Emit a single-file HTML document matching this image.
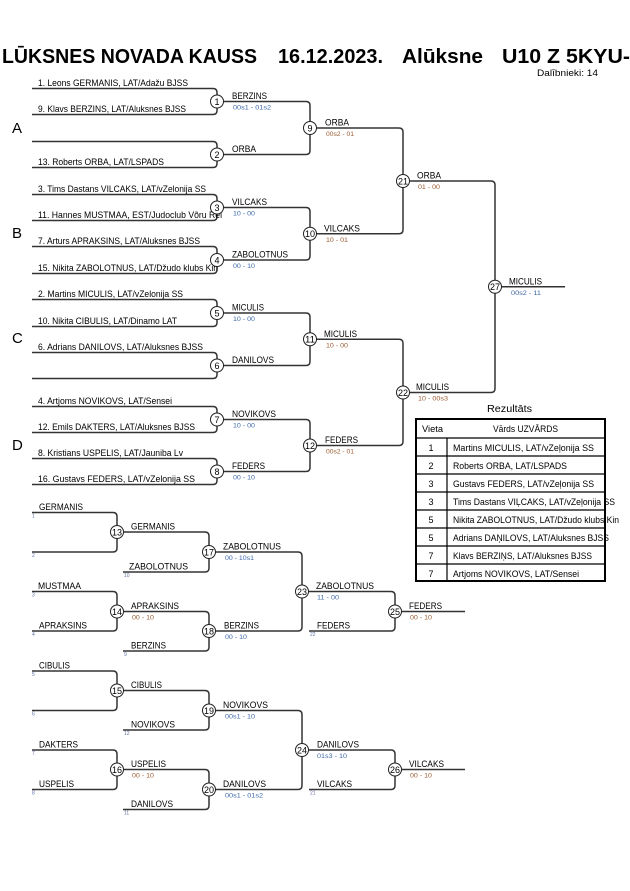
<!DOCTYPE html>
<html><head><meta charset="utf-8">
<style>
html,body{margin:0;padding:0;background:#fff;}
svg{display:block;}
text{font-family:"Liberation Sans",Arial,sans-serif;fill:#000;}
.n{font-size:9px;}
.s{font-size:6.5px;}
.b{fill:#3d68a8;}
.o{fill:#9a5a30;}
.t{font-size:5px;fill:#6070a0;}
.c{font-size:9px;text-anchor:middle;}
.L{font-size:15px;}
path,line{fill:none;stroke:#333;stroke-width:1.5;}
circle{fill:#fff;stroke:#222;stroke-width:1;}
</style></head>
<body>
<svg width="630" height="891" viewBox="0 0 630 891" xmlns="http://www.w3.org/2000/svg">
<rect x="0" y="0" width="630" height="891" fill="#fff"/>
<!-- Title -->
<text x="2" y="63" font-size="20" font-weight="bold" textLength="255" lengthAdjust="spacingAndGlyphs">LŪKSNES NOVADA KAUSS</text>
<text x="278" y="63" font-size="20" font-weight="bold" textLength="105" lengthAdjust="spacingAndGlyphs">16.12.2023.</text>
<text x="402" y="63" font-size="20" font-weight="bold" textLength="81" lengthAdjust="spacingAndGlyphs">Alūksne</text>
<text x="502" y="63" font-size="20" font-weight="bold" textLength="128" lengthAdjust="spacingAndGlyphs">U10 Z 5KYU-</text>
<text x="537" y="76" font-size="9" textLength="61" lengthAdjust="spacingAndGlyphs">Dalībnieki: 14</text>

<!-- Group letters -->
<text class="L" x="12" y="133">A</text>
<text class="L" x="12" y="238">B</text>
<text class="L" x="12" y="343">C</text>
<text class="L" x="12" y="450">D</text>

<!-- Upper bracket lines -->
<path d="M32,88.5 H213 Q217,88.5 217,92.5 V110.5 Q217,114.5 213,114.5 H32"/>
<path d="M32,141.5 H213 Q217,141.5 217,145.5 V163.5 Q217,167.5 213,167.5 H32"/>
<path d="M32,194.5 H213 Q217,194.5 217,198.5 V216.5 Q217,220.5 213,220.5 H32"/>
<path d="M32,246.5 H213 Q217,246.5 217,250.5 V269.5 Q217,273.5 213,273.5 H32"/>
<path d="M32,299.5 H213 Q217,299.5 217,303.5 V322.5 Q217,326.5 213,326.5 H32"/>
<path d="M32,352.5 H213 Q217,352.5 217,356.5 V374.5 Q217,378.5 213,378.5 H32"/>
<path d="M32,406.5 H213 Q217,406.5 217,410.5 V428.5 Q217,432.5 213,432.5 H32"/>
<path d="M32,458.5 H213 Q217,458.5 217,462.5 V480.5 Q217,484.5 213,484.5 H32"/>

<path d="M217,101.5 H306 Q310,101.5 310,105.5 V150.5 Q310,154.5 306,154.5 H217"/>
<path d="M217,207.5 H306 Q310,207.5 310,211.5 V256 Q310,260 306,260 H217"/>
<path d="M217,313 H306 Q310,313 310,317 V361.5 Q310,365.5 306,365.5 H217"/>
<path d="M217,419.5 H306 Q310,419.5 310,423.5 V467.5 Q310,471.5 306,471.5 H217"/>

<path d="M310,128 H399 Q403,128 403,132 V229.75 Q403,233.75 399,233.75 H310"/>
<path d="M310,339.25 H399 Q403,339.25 403,343.25 V441.5 Q403,445.5 399,445.5 H310"/>

<path d="M403,181 H491 Q495,181 495,185 V388.5 Q495,392.5 491,392.5 H403"/>
<path d="M495,286.75 H565"/>

<!-- Entry labels -->
<text class="n" x="38" y="86" textLength="150" lengthAdjust="spacingAndGlyphs">1. Leons GERMANIS, LAT/Adažu BJSS</text>
<text class="n" x="38" y="112" textLength="148" lengthAdjust="spacingAndGlyphs">9. Klavs BERZINS, LAT/Aluksnes BJSS</text>
<text class="n" x="38" y="165" textLength="126" lengthAdjust="spacingAndGlyphs">13. Roberts ORBA, LAT/LSPADS</text>
<text class="n" x="38" y="192" textLength="168" lengthAdjust="spacingAndGlyphs">3. Tims Dastans VILCAKS, LAT/vZelonija SS</text>
<text class="n" x="38" y="218" textLength="184" lengthAdjust="spacingAndGlyphs">11. Hannes MUSTMAA, EST/Judoclub Võru Rei</text>
<text class="n" x="38" y="244" textLength="162" lengthAdjust="spacingAndGlyphs">7. Arturs APRAKSINS, LAT/Aluksnes BJSS</text>
<text class="n" x="38" y="271" textLength="180" lengthAdjust="spacingAndGlyphs">15. Nikita ZABOLOTNUS, LAT/Džudo klubs Kin</text>
<text class="n" x="38" y="297" textLength="145" lengthAdjust="spacingAndGlyphs">2. Martins MICULIS, LAT/vZelonija SS</text>
<text class="n" x="38" y="324" textLength="139" lengthAdjust="spacingAndGlyphs">10. Nikita CIBULIS, LAT/Dinamo LAT</text>
<text class="n" x="38" y="350" textLength="165" lengthAdjust="spacingAndGlyphs">6. Adrians DANILOVS, LAT/Aluksnes BJSS</text>
<text class="n" x="38" y="404" textLength="134" lengthAdjust="spacingAndGlyphs">4. Artjoms NOVIKOVS, LAT/Sensei</text>
<text class="n" x="38" y="430" textLength="157" lengthAdjust="spacingAndGlyphs">12. Emils DAKTERS, LAT/Aluksnes BJSS</text>
<text class="n" x="38" y="456" textLength="145" lengthAdjust="spacingAndGlyphs">8. Kristians USPELIS, LAT/Jauniba Lv</text>
<text class="n" x="38" y="482" textLength="157" lengthAdjust="spacingAndGlyphs">16. Gustavs FEDERS, LAT/vZelonija SS</text>

<!-- Round 1 winners -->
<text class="n" x="232" y="99" textLength="35" lengthAdjust="spacingAndGlyphs">BERZINS</text>
<text class="s b" x="233" y="109.5" textLength="38" lengthAdjust="spacingAndGlyphs">00s1 - 01s2</text>
<text class="n" x="232" y="152" textLength="24" lengthAdjust="spacingAndGlyphs">ORBA</text>
<text class="n" x="232" y="205" textLength="35" lengthAdjust="spacingAndGlyphs">VILCAKS</text>
<text class="s b" x="233" y="215.5" textLength="22" lengthAdjust="spacingAndGlyphs">10 - 00</text>
<text class="n" x="232" y="257.5" textLength="56" lengthAdjust="spacingAndGlyphs">ZABOLOTNUS</text>
<text class="s b" x="233" y="268" textLength="22" lengthAdjust="spacingAndGlyphs">00 - 10</text>
<text class="n" x="232" y="310.5" textLength="32" lengthAdjust="spacingAndGlyphs">MICULIS</text>
<text class="s b" x="233" y="321" textLength="22" lengthAdjust="spacingAndGlyphs">10 - 00</text>
<text class="n" x="232" y="363" textLength="42" lengthAdjust="spacingAndGlyphs">DANILOVS</text>
<text class="n" x="232" y="417" textLength="44" lengthAdjust="spacingAndGlyphs">NOVIKOVS</text>
<text class="s b" x="233" y="427.5" textLength="22" lengthAdjust="spacingAndGlyphs">10 - 00</text>
<text class="n" x="232" y="469" textLength="33" lengthAdjust="spacingAndGlyphs">FEDERS</text>
<text class="s b" x="233" y="479.5" textLength="22" lengthAdjust="spacingAndGlyphs">00 - 10</text>

<!-- Round 2 winners -->
<text class="n" x="325" y="125.5" textLength="24" lengthAdjust="spacingAndGlyphs">ORBA</text>
<text class="s o" x="326" y="136" textLength="28" lengthAdjust="spacingAndGlyphs">00s2 - 01</text>
<text class="n" x="324" y="231.25" textLength="36" lengthAdjust="spacingAndGlyphs">VILCAKS</text>
<text class="s o" x="326" y="241.75" textLength="22" lengthAdjust="spacingAndGlyphs">10 - 01</text>
<text class="n" x="324" y="336.75" textLength="33" lengthAdjust="spacingAndGlyphs">MICULIS</text>
<text class="s o" x="326" y="347.25" textLength="22" lengthAdjust="spacingAndGlyphs">10 - 00</text>
<text class="n" x="325" y="443" textLength="33" lengthAdjust="spacingAndGlyphs">FEDERS</text>
<text class="s o" x="326" y="453.5" textLength="28" lengthAdjust="spacingAndGlyphs">00s2 - 01</text>

<!-- Round 3 winners -->
<text class="n" x="417" y="178.5" textLength="24" lengthAdjust="spacingAndGlyphs">ORBA</text>
<text class="s o" x="418" y="189" textLength="22" lengthAdjust="spacingAndGlyphs">01 - 00</text>
<text class="n" x="416" y="390" textLength="33" lengthAdjust="spacingAndGlyphs">MICULIS</text>
<text class="s o" x="418" y="400.5" textLength="30" lengthAdjust="spacingAndGlyphs">10 - 00s3</text>

<!-- Final -->
<text class="n" x="509" y="284.25" textLength="33" lengthAdjust="spacingAndGlyphs">MICULIS</text>
<text class="s b" x="511" y="295" textLength="30" lengthAdjust="spacingAndGlyphs">00s2 - 11</text>

<!-- Upper circles -->
<circle cx="217" cy="101.5" r="6.5"/><text class="c" x="217" y="104.8">1</text>
<circle cx="217" cy="154.5" r="6.5"/><text class="c" x="217" y="157.8">2</text>
<circle cx="217" cy="207.5" r="6.5"/><text class="c" x="217" y="210.8">3</text>
<circle cx="217" cy="260" r="6.5"/><text class="c" x="217" y="263.3">4</text>
<circle cx="217" cy="313" r="6.5"/><text class="c" x="217" y="316.3">5</text>
<circle cx="217" cy="365.5" r="6.5"/><text class="c" x="217" y="368.8">6</text>
<circle cx="217" cy="419.5" r="6.5"/><text class="c" x="217" y="422.8">7</text>
<circle cx="217" cy="471.5" r="6.5"/><text class="c" x="217" y="474.8">8</text>
<circle cx="310" cy="128" r="6.5"/><text class="c" x="310" y="131.3">9</text>
<circle cx="310" cy="233.75" r="6.5"/><text class="c" x="310" y="237" textLength="10" lengthAdjust="spacingAndGlyphs">10</text>
<circle cx="310" cy="339.25" r="6.5"/><text class="c" x="310" y="342.5" textLength="10" lengthAdjust="spacingAndGlyphs">11</text>
<circle cx="310" cy="445.5" r="6.5"/><text class="c" x="310" y="448.8" textLength="10" lengthAdjust="spacingAndGlyphs">12</text>
<circle cx="403" cy="181" r="6.5"/><text class="c" x="403" y="184.3" textLength="10" lengthAdjust="spacingAndGlyphs">21</text>
<circle cx="403" cy="392.5" r="6.5"/><text class="c" x="403" y="395.8" textLength="10" lengthAdjust="spacingAndGlyphs">22</text>
<circle cx="495" cy="286.75" r="6.5"/><text class="c" x="495" y="290" textLength="10" lengthAdjust="spacingAndGlyphs">27</text>

<!-- Results table -->
<text x="487" y="412" font-size="10" textLength="45" lengthAdjust="spacingAndGlyphs">Rezultāts</text>
<rect x="416" y="419" width="189" height="162" fill="none" stroke="#000" stroke-width="2"/>
<line x1="416" y1="438" x2="605" y2="438" style="stroke:#000;stroke-width:1.2"/>
<line x1="416" y1="456" x2="605" y2="456" style="stroke:#000;stroke-width:1.2"/>
<line x1="416" y1="474" x2="605" y2="474" style="stroke:#000;stroke-width:1.2"/>
<line x1="416" y1="492" x2="605" y2="492" style="stroke:#000;stroke-width:1.2"/>
<line x1="416" y1="510" x2="605" y2="510" style="stroke:#000;stroke-width:1.2"/>
<line x1="416" y1="528" x2="605" y2="528" style="stroke:#000;stroke-width:1.2"/>
<line x1="416" y1="546" x2="605" y2="546" style="stroke:#000;stroke-width:1.2"/>
<line x1="416" y1="564" x2="605" y2="564" style="stroke:#000;stroke-width:1.2"/>
<line x1="447" y1="438" x2="447" y2="581" style="stroke:#000;stroke-width:1.2"/>
<text class="n" x="422" y="432" textLength="21" lengthAdjust="spacingAndGlyphs">Vieta</text>
<text class="n" x="493" y="432" textLength="65" lengthAdjust="spacingAndGlyphs">Vārds UZVĀRDS</text>
<text class="c" x="431" y="451">1</text>
<text class="c" x="431" y="469">2</text>
<text class="c" x="431" y="487">3</text>
<text class="c" x="431" y="505">3</text>
<text class="c" x="431" y="523">5</text>
<text class="c" x="431" y="541">5</text>
<text class="c" x="431" y="559">7</text>
<text class="c" x="431" y="577">7</text>
<text class="n" x="453" y="451" textLength="141" lengthAdjust="spacingAndGlyphs">Martins MICULIS, LAT/vZeļonija SS</text>
<text class="n" x="453" y="469" textLength="114" lengthAdjust="spacingAndGlyphs">Roberts ORBA, LAT/LSPADS</text>
<text class="n" x="453" y="487" textLength="141" lengthAdjust="spacingAndGlyphs">Gustavs FEDERS, LAT/vZeļonija SS</text>
<text class="n" x="453" y="505" textLength="162" lengthAdjust="spacingAndGlyphs">Tims Dastans VIĻCAKS, LAT/vZeļonija SS</text>
<text class="n" x="453" y="523" textLength="166" lengthAdjust="spacingAndGlyphs">Nikita ZABOLOTNUS, LAT/Džudo klubs Kin</text>
<text class="n" x="453" y="541" textLength="156" lengthAdjust="spacingAndGlyphs">Adrians DAŅILOVS, LAT/Aluksnes BJSS</text>
<text class="n" x="453" y="559" textLength="139" lengthAdjust="spacingAndGlyphs">Klavs BERZIŅS, LAT/Aluksnes BJSS</text>
<text class="n" x="453" y="577" textLength="126" lengthAdjust="spacingAndGlyphs">Artjoms NOVIKOVS, LAT/Sensei</text>

<!-- Repechage lines -->
<path d="M32,512.5 H113 Q117,512.5 117,516.5 V548 Q117,552 113,552 H32"/>
<path d="M32,591.5 H113 Q117,591.5 117,595.5 V627 Q117,631 113,631 H32"/>
<path d="M32,671 H113 Q117,671 117,675 V706.5 Q117,710.5 113,710.5 H32"/>
<path d="M32,750 H113 Q117,750 117,754 V785.5 Q117,789.5 113,789.5 H32"/>
<path d="M117,532 H205 Q209,532 209,536 V568 Q209,572 205,572 H123"/>
<path d="M117,611.5 H205 Q209,611.5 209,615.5 V647 Q209,651 205,651 H123"/>
<path d="M117,690.5 H205 Q209,690.5 209,694.5 V726 Q209,730 205,730 H123"/>
<path d="M117,769.5 H205 Q209,769.5 209,773.5 V805.5 Q209,809.5 205,809.5 H123"/>
<path d="M209,552 H298 Q302,552 302,556 V627 Q302,631 298,631 H209"/>
<path d="M209,710.5 H298 Q302,710.5 302,714.5 V785.5 Q302,789.5 298,789.5 H209"/>
<path d="M302,591.5 H391 Q395,591.5 395,595.5 V627 Q395,631 391,631 H309"/>
<path d="M302,750 H391 Q395,750 395,754 V785.5 Q395,789.5 391,789.5 H309"/>
<path d="M395,611.5 H465"/>
<path d="M395,769.5 H465"/>

<!-- Repechage entry labels -->
<text class="n" x="39" y="510" textLength="44" lengthAdjust="spacingAndGlyphs">GERMANIS</text>
<text class="n" x="38" y="589" textLength="43" lengthAdjust="spacingAndGlyphs">MUSTMAA</text>
<text class="n" x="39" y="628.5" textLength="48" lengthAdjust="spacingAndGlyphs">APRAKSINS</text>
<text class="n" x="39" y="668.5" textLength="31" lengthAdjust="spacingAndGlyphs">CIBULIS</text>
<text class="n" x="39" y="747.5" textLength="39" lengthAdjust="spacingAndGlyphs">DAKTERS</text>
<text class="n" x="39" y="787" textLength="35" lengthAdjust="spacingAndGlyphs">USPELIS</text>
<text class="t" x="32" y="517.5">1</text>
<text class="t" x="32" y="557">2</text>
<text class="t" x="32" y="596.5">3</text>
<text class="t" x="32" y="636">4</text>
<text class="t" x="32" y="676">5</text>
<text class="t" x="32" y="715.5">6</text>
<text class="t" x="32" y="755">7</text>
<text class="t" x="32" y="794.5">8</text>

<!-- Repechage round 2 -->
<text class="n" x="131" y="529.5" textLength="44" lengthAdjust="spacingAndGlyphs">GERMANIS</text>
<text class="n" x="131" y="609" textLength="48" lengthAdjust="spacingAndGlyphs">APRAKSINS</text>
<text class="s o" x="132" y="619.5" textLength="22" lengthAdjust="spacingAndGlyphs">00 - 10</text>
<text class="n" x="131" y="688" textLength="31" lengthAdjust="spacingAndGlyphs">CIBULIS</text>
<text class="n" x="131" y="767" textLength="35" lengthAdjust="spacingAndGlyphs">USPELIS</text>
<text class="s o" x="132" y="777.5" textLength="22" lengthAdjust="spacingAndGlyphs">00 - 10</text>
<text class="n" x="129" y="569.5" textLength="59" lengthAdjust="spacingAndGlyphs">ZABOLOTNUS</text>
<text class="t" x="124" y="577">10</text>
<text class="n" x="131" y="648.5" textLength="35" lengthAdjust="spacingAndGlyphs">BERZINS</text>
<text class="t" x="124" y="656">9</text>
<text class="n" x="131" y="727.5" textLength="44" lengthAdjust="spacingAndGlyphs">NOVIKOVS</text>
<text class="t" x="124" y="735">12</text>
<text class="n" x="131" y="807" textLength="42" lengthAdjust="spacingAndGlyphs">DANILOVS</text>
<text class="t" x="124" y="814.5">11</text>

<!-- Repechage round 3 -->
<text class="n" x="223" y="549.5" textLength="58" lengthAdjust="spacingAndGlyphs">ZABOLOTNUS</text>
<text class="s b" x="225" y="560" textLength="29" lengthAdjust="spacingAndGlyphs">00 - 10s1</text>
<text class="n" x="224" y="628.5" textLength="35" lengthAdjust="spacingAndGlyphs">BERZINS</text>
<text class="s b" x="225" y="639" textLength="22" lengthAdjust="spacingAndGlyphs">00 - 10</text>
<text class="n" x="223" y="708" textLength="45" lengthAdjust="spacingAndGlyphs">NOVIKOVS</text>
<text class="s b" x="225" y="718.5" textLength="30" lengthAdjust="spacingAndGlyphs">00s1 - 10</text>
<text class="n" x="223" y="787" textLength="43" lengthAdjust="spacingAndGlyphs">DANILOVS</text>
<text class="s b" x="225" y="797.5" textLength="38" lengthAdjust="spacingAndGlyphs">00s1 - 01s2</text>

<!-- Repechage round 4 -->
<text class="n" x="316" y="589" textLength="58" lengthAdjust="spacingAndGlyphs">ZABOLOTNUS</text>
<text class="s b" x="317" y="599.5" textLength="22" lengthAdjust="spacingAndGlyphs">11 - 00</text>
<text class="n" x="317" y="628.5" textLength="33" lengthAdjust="spacingAndGlyphs">FEDERS</text>
<text class="t" x="310" y="636">22</text>
<text class="n" x="317" y="747.5" textLength="42" lengthAdjust="spacingAndGlyphs">DANILOVS</text>
<text class="s b" x="317" y="758" textLength="30" lengthAdjust="spacingAndGlyphs">01s3 - 10</text>
<text class="n" x="317" y="787" textLength="35" lengthAdjust="spacingAndGlyphs">VILCAKS</text>
<text class="t" x="310" y="794.5">21</text>

<!-- Repechage finals -->
<text class="n" x="409" y="609" textLength="33" lengthAdjust="spacingAndGlyphs">FEDERS</text>
<text class="s o" x="410" y="619.5" textLength="22" lengthAdjust="spacingAndGlyphs">00 - 10</text>
<text class="n" x="409" y="767" textLength="35" lengthAdjust="spacingAndGlyphs">VILCAKS</text>
<text class="s o" x="410" y="777.5" textLength="22" lengthAdjust="spacingAndGlyphs">00 - 10</text>

<!-- Repechage circles -->
<circle cx="117" cy="532" r="6.5"/><text class="c" x="117" y="535.3" textLength="10" lengthAdjust="spacingAndGlyphs">13</text>
<circle cx="117" cy="611.5" r="6.5"/><text class="c" x="117" y="614.8" textLength="10" lengthAdjust="spacingAndGlyphs">14</text>
<circle cx="117" cy="690.5" r="6.5"/><text class="c" x="117" y="693.8" textLength="10" lengthAdjust="spacingAndGlyphs">15</text>
<circle cx="117" cy="769.5" r="6.5"/><text class="c" x="117" y="772.8" textLength="10" lengthAdjust="spacingAndGlyphs">16</text>
<circle cx="209" cy="552" r="6.5"/><text class="c" x="209" y="555.3" textLength="10" lengthAdjust="spacingAndGlyphs">17</text>
<circle cx="209" cy="631" r="6.5"/><text class="c" x="209" y="634.3" textLength="10" lengthAdjust="spacingAndGlyphs">18</text>
<circle cx="209" cy="710.5" r="6.5"/><text class="c" x="209" y="713.8" textLength="10" lengthAdjust="spacingAndGlyphs">19</text>
<circle cx="209" cy="789.5" r="6.5"/><text class="c" x="209" y="792.8" textLength="10" lengthAdjust="spacingAndGlyphs">20</text>
<circle cx="302" cy="591.5" r="6.5"/><text class="c" x="302" y="594.8" textLength="10" lengthAdjust="spacingAndGlyphs">23</text>
<circle cx="302" cy="750" r="6.5"/><text class="c" x="302" y="753.3" textLength="10" lengthAdjust="spacingAndGlyphs">24</text>
<circle cx="395" cy="611.5" r="6.5"/><text class="c" x="395" y="614.8" textLength="10" lengthAdjust="spacingAndGlyphs">25</text>
<circle cx="395" cy="769.5" r="6.5"/><text class="c" x="395" y="772.8" textLength="10" lengthAdjust="spacingAndGlyphs">26</text>
</svg>
</body></html>
